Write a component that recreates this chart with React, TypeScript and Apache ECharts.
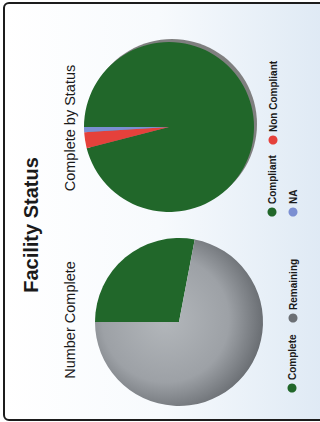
import React, { useEffect, useRef } from "react";
import * as echarts from "echarts";

// ---- data ----
const chartTitle = "Facility Status";
const completeTitle = "Number Complete";
const completeCategories = ["Complete", "Remaining"];
const completeValues = [28, 72];
const statusTitle = "Complete by Status";
const statusCategories = ["Compliant", "Non Compliant", "NA"];
const statusValues = [96, 3, 1];

// ---- styles ----
const GREEN = "#21672a";
const completeColors = [
  GREEN,
  {
    type: "radial",
    x: 0.42,
    y: 0.48,
    r: 0.58,
    colorStops: [
      { offset: 0, color: "#b3b7bb" },
      { offset: 0.65, color: "#9da1a6" },
      { offset: 1, color: "#6a6e73" },
    ],
  },
];
const completeLegendColors = [GREEN, "#6c7075"];
const statusColors = [GREEN, "#e5413b", "#7b8fd2"];

const FONT = '"Liberation Sans", Arial, sans-serif';

export default function App() {
  const ref = useRef<HTMLDivElement>(null);

  useEffect(() => {
    if (!ref.current) return;
    const chart = echarts.init(ref.current, null, { renderer: "svg" });
    const R = Math.PI / 2;

    const vText = (text: string, x: number, y: number, font: string, align: string, z = 10) => ({
      type: "text",
      x,
      y,
      rotation: R,
      z,
      silent: true,
      style: {
        text,
        font,
        fill: "#1a1a1a",
        textAlign: align,
        textVerticalAlign: "middle",
      },
    });

    const legendItems = (
      cats: string[],
      colors: string[],
      pos: number[][]
    ) =>
      cats.flatMap((c, i) => [
        {
          type: "circle",
          z: 10,
          silent: true,
          shape: { cx: pos[i][0], cy: pos[i][1], r: 4.5 },
          style: { fill: colors[i] },
        },
        vText(c, pos[i][0], pos[i][1] - 8, `bold 10px ${FONT}`, "left"),
      ]);

    const statusLegendPos = [
      [272, 212],
      [273, 140],
      [293, 212],
    ];
    const completeLegendPos = [
      [292, 388],
      [293, 318],
    ];

    chart.setOption({
      animation: false,
      graphic: {
        elements: [
          {
            type: "rect",
            z: 0,
            silent: true,
            shape: { x: 4, y: 3, width: 345, height: 417, r: 5 },
            style: {
              fill: new echarts.graphic.LinearGradient(0, 0, 1, 0, [
                { offset: 0, color: "#ffffff" },
                { offset: 0.45, color: "#f7fafd" },
                { offset: 1, color: "#dbe7f3" },
              ]),
              stroke: "#1c1c1c",
              lineWidth: 2,
            },
          },
          {
            type: "circle",
            z: 1,
            silent: true,
            shape: { cx: 172, cy: 124, r: 85 },
            style: { fill: "#7f7f7f" },
          },
          vText(chartTitle, 31, 225, `bold 20px ${FONT}`, "center"),
          vText(statusTitle, 70, 128, `14.5px ${FONT}`, "center"),
          vText(completeTitle, 70, 320, `14.5px ${FONT}`, "center"),
          ...legendItems(statusCategories, statusColors, statusLegendPos),
          ...legendItems(completeCategories, completeLegendColors, completeLegendPos),
        ],
      },
      series: [
        {
          type: "pie",
          name: statusTitle,
          z: 3,
          silent: true,
          center: [169, 127],
          radius: 85,
          startAngle: 180,
          clockwise: true,
          label: { show: false },
          labelLine: { show: false },
          itemStyle: { borderWidth: 0 },
          emphasis: { disabled: true },
          data: statusCategories.map((n, i) => ({
            name: n,
            value: statusValues[i],
            itemStyle: { color: statusColors[i] },
          })),
        },
        {
          type: "pie",
          name: completeTitle,
          z: 3,
          silent: true,
          center: [179, 322],
          radius: 84,
          startAngle: 180,
          clockwise: true,
          label: { show: false },
          labelLine: { show: false },
          itemStyle: { borderWidth: 0 },
          emphasis: { disabled: true },
          data: completeCategories.map((n, i) => ({
            name: n,
            value: completeValues[i],
            itemStyle: { color: completeColors[i] },
          })),
        },
      ],
    });

    return () => chart.dispose();
  }, []);

  return (
    <div
      ref={ref}
      style={{
        position: "fixed",
        left: 0,
        top: 0,
        width: 320,
        height: 422,
        background: "#ffffff",
      }}
    />
  );
}
